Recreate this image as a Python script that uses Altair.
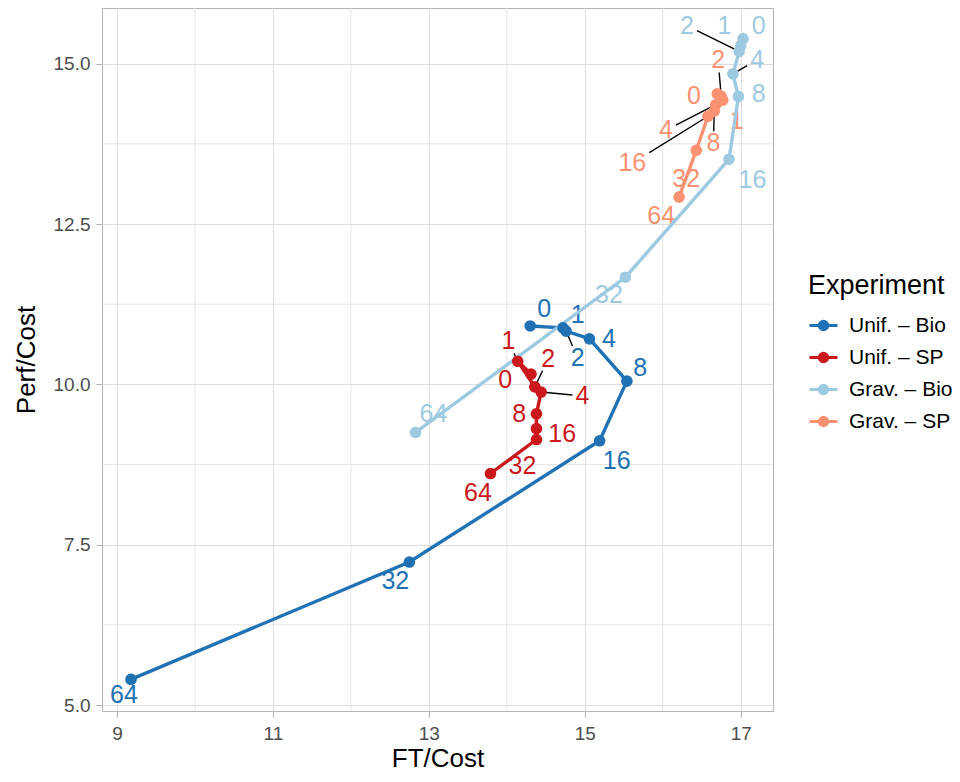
import math
import altair as alt
import pandas as pd

# ---------------- data ----------------
experiments = ["Unif. – Bio", "Unif. – SP", "Grav. – Bio", "Grav. – SP"]
colors = ["#2171b5", "#cb181d", "#9ecae1", "#fc9272"]
n_values = [0, 1, 2, 4, 8, 16, 32, 64]

unif_bio_ft = [14.30, 14.72, 14.76, 15.06, 15.54, 15.19, 12.75, 9.18]
unif_bio_perf = [10.91, 10.88, 10.83, 10.71, 10.05, 9.12, 7.23, 5.40]
unif_sp_ft = [14.31, 14.14, 14.36, 14.44, 14.38, 14.38, 14.38, 13.79]
unif_sp_perf = [10.16, 10.36, 9.96, 9.88, 9.54, 9.31, 9.14, 8.61]
grav_bio_ft = [17.03, 17.00, 16.98, 16.90, 16.97, 16.85, 15.52, 12.83]
grav_bio_perf = [15.39, 15.28, 15.19, 14.84, 14.49, 13.51, 11.67, 9.25]
grav_sp_ft = [16.70, 16.77, 16.75, 16.68, 16.66, 16.58, 16.43, 16.21]
grav_sp_perf = [14.53, 14.43, 14.49, 14.36, 14.26, 14.18, 13.65, 12.92]

# repelled label placements (data units)
unif_bio_lab_ft = [14.48, 14.91, 14.91, 15.31, 15.71, 15.41, 12.57, 9.09]
unif_bio_lab_perf = [11.17, 11.08, 10.41, 10.71, 10.26, 8.80, 6.94, 5.16]
unif_sp_lab_ft = [13.98, 14.02, 14.53, 14.97, 14.16, 14.71, 14.20, 13.63]
unif_sp_lab_perf = [10.07, 10.67, 10.40, 9.82, 9.54, 9.23, 8.72, 8.30]
grav_bio_lab_ft = [17.23, 16.79, 16.31, 17.21, 17.23, 17.15, 15.31, 13.06]
grav_bio_lab_perf = [15.59, 15.59, 15.59, 15.06, 14.53, 13.19, 11.40, 9.53]
grav_sp_lab_ft = [16.40, 16.95, 16.71, 16.04, 16.65, 15.61, 16.30, 15.98]
grav_sp_lab_perf = [14.50, 14.10, 15.05, 13.96, 13.76, 13.45, 13.20, 12.63]

# which labels get a leader segment
unif_bio_seg = [False, False, True, False, False, False, False, False]
unif_sp_seg = [False, True, True, True, False, False, False, False]
grav_bio_seg = [False, False, True, True, False, False, False, False]
grav_sp_seg = [False, False, True, True, True, True, False, False]

x_ticks = [9, 11, 13, 15, 17]
x_minor = [10, 12, 14, 16]
y_ticks = [5.0, 7.5, 10.0, 12.5, 15.0]
y_minor = [6.25, 8.75, 11.25, 13.75]

# ---------------- layout ----------------
X_DOM = [8.808, 17.414]
Y_DOM = [4.907, 15.868]
W, H = 671, 703
FONT = "Liberation Sans"
LABEL_FS = 25
px_x = W / (X_DOM[1] - X_DOM[0])
px_y = H / (Y_DOM[1] - Y_DOM[0])

series = [
    (unif_bio_ft, unif_bio_perf, unif_bio_lab_ft, unif_bio_lab_perf, unif_bio_seg),
    (unif_sp_ft, unif_sp_perf, unif_sp_lab_ft, unif_sp_lab_perf, unif_sp_seg),
    (grav_bio_ft, grav_bio_perf, grav_bio_lab_ft, grav_bio_lab_perf, grav_bio_seg),
    (grav_sp_ft, grav_sp_perf, grav_sp_lab_ft, grav_sp_lab_perf, grav_sp_seg),
]

rows = []
for exp, (fx, fy, lx, ly, sg) in zip(experiments, series):
    for i, n in enumerate(n_values):
        lab = str(n)
        dxp = (fx[i] - lx[i]) * px_x
        dyp = (fy[i] - ly[i]) * px_y
        hw = 0.28 * LABEL_FS * len(lab) + 3
        hh = 0.36 * LABEL_FS + 3
        t = min(hw / abs(dxp) if dxp else math.inf, hh / abs(dyp) if dyp else math.inf)
        t = min(t, 1.0)
        rows.append({
            "exp": exp, "ord": i, "n": lab,
            "ft": fx[i], "perf": fy[i],
            "lab_ft": lx[i], "lab_perf": ly[i],
            "seg": bool(sg[i]),
            "seg_ft": lx[i] + (fx[i] - lx[i]) * t,
            "seg_perf": ly[i] + (fy[i] - ly[i]) * t,
        })
df = pd.DataFrame(rows)

xscale = alt.Scale(domain=X_DOM, nice=False, zero=False)
yscale = alt.Scale(domain=Y_DOM, nice=False, zero=False)
x_axis = alt.Axis(values=x_ticks, format="d", tickSize=6, labelPadding=7, titlePadding=2)
y_axis = alt.Axis(values=y_ticks, format=".1f", tickSize=6, labelPadding=6, titlePadding=14)

legend_symbol = "M-1,0H1M-0.3,0A0.3,0.3,0,1,1,0.3,0A0.3,0.3,0,1,1,-0.3,0Z"
legend = alt.Legend(
    title="Experiment",
    orient="none", legendX=706, legendY=265,
    symbolType=legend_symbol, symbolSize=784, symbolStrokeWidth=3,
    symbolOpacity=1,
    rowPadding=6, labelOffset=10, titlePadding=10,
    titleFontSize=27, titleFont=FONT, titleFontWeight="normal", titleColor="#000000",
    labelFontSize=21, labelFont=FONT, labelColor="#000000",
)
cscale = alt.Scale(domain=experiments, range=colors)

x_enc = alt.X("ft:Q", scale=xscale, title="FT/Cost", axis=x_axis)
y_enc = alt.Y("perf:Q", scale=yscale, title="Perf/Cost", axis=y_axis)

base = alt.Chart(df)

minor_x = alt.Chart(pd.DataFrame({"v": x_minor})).mark_rule(color="#dedede", strokeWidth=0.8).encode(
    x=alt.X("v:Q", scale=xscale, title="FT/Cost", axis=x_axis))
minor_y = alt.Chart(pd.DataFrame({"v": y_minor})).mark_rule(color="#dedede", strokeWidth=0.8).encode(
    y=alt.Y("v:Q", scale=yscale, title="Perf/Cost", axis=y_axis))

segments = base.transform_filter("datum.seg").mark_rule(color="#000000", strokeWidth=1.4).encode(
    x=x_enc, y=y_enc,
    x2="seg_ft:Q", y2="seg_perf:Q",
)

labels = base.mark_text(font=FONT, fontSize=LABEL_FS, align="center", baseline="middle").encode(
    x=alt.X("lab_ft:Q", scale=xscale, title="FT/Cost", axis=x_axis),
    y=alt.Y("lab_perf:Q", scale=yscale, title="Perf/Cost", axis=y_axis),
    text="n:N",
    color=alt.Color("exp:N", scale=cscale, legend=legend),
)

lines = base.mark_line(strokeWidth=3.4).encode(
    x=x_enc, y=y_enc, color=alt.Color("exp:N", scale=cscale, legend=legend),
    order=alt.Order("ord:Q"),
)

points = base.mark_point(size=75, opacity=1, filled=True, strokeWidth=3).encode(
    x=x_enc, y=y_enc,
    fill=alt.Fill("exp:N", scale=cscale, legend=legend),
    stroke=alt.Stroke("exp:N", scale=cscale, legend=legend),
)

chart = alt.layer(minor_x, minor_y, segments, labels, lines, points).properties(
    width=W, height=H,
    autosize=alt.AutoSizeParams(type="none"),
    padding={"left": 94, "top": 0, "right": 179, "bottom": 63},
    background="white",
).configure_view(
    stroke="#b3b3b3", strokeWidth=1,
).configure_axis(
    grid=True, gridColor="#dedede", gridWidth=1,
    domain=False, tickColor="#b3b3b3", tickWidth=1,
    labelFont=FONT, labelFontSize=19, labelColor="#4d4d4d",
    titleFont=FONT, titleFontSize=26, titleFontWeight="normal", titleColor="#000000",
)

chart.save("out.html", embed_options={"renderer": "svg", "actions": False})
